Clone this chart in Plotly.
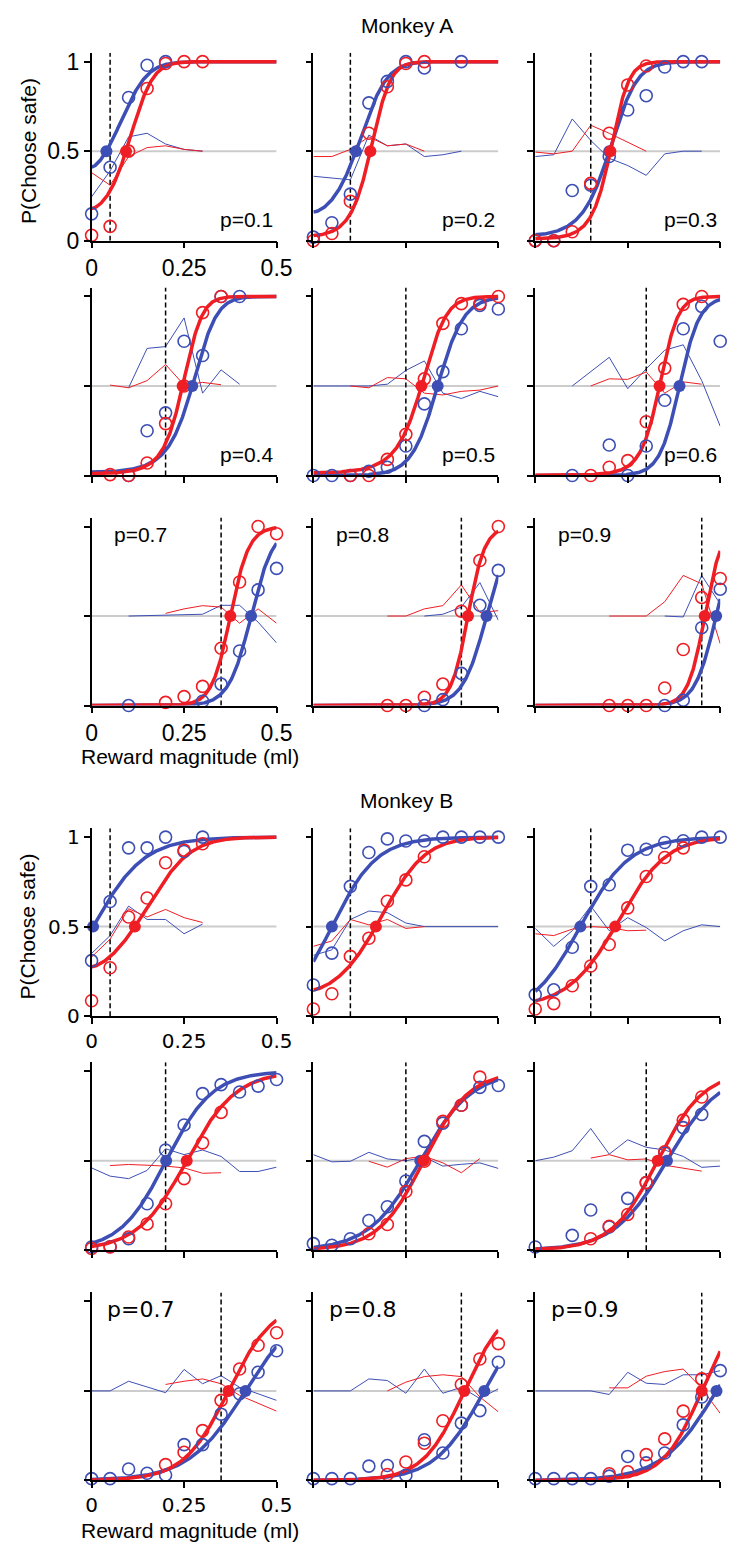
import numpy as np
import plotly.graph_objects as go

# ---------------------------------------------------------------- data
P_LEVELS = [0.1, 0.2, 0.3, 0.4, 0.5, 0.6, 0.7, 0.8, 0.9]
X_FULL = [0, 0.05, 0.1, 0.15, 0.2, 0.25, 0.3, 0.35, 0.4, 0.45, 0.5]

# Monkey A: choice proportions (open circles)
A_BLUE_X = [
    [0, .05, .1, .15, .2],
    [0, .05, .1, .15, .2, .25, .3, .4],
    [0, .05, .1, .15, .2, .25, .3, .35, .4, .45],
    [.1, .15, .2, .25, .3, .35, .4],
    [0, .05, .1, .15, .2, .25, .3, .35, .4, .45, .5],
    [.1, .2, .25, .3, .35, .4, .45, .5],
    [.1, .3, .35, .4, .45, .5],
    [.3, .35, .4, .45, .5],
    [.35, .4, .45, .5],
]
A_BLUE_Y = [
    [0.15, 0.41, 0.80, 0.98, 1.0],
    [0.02, 0.10, 0.26, 0.77, 0.89, 1.0, 0.965, 1.0],
    [0, 0, 0.28, 0.31, 0.47, 0.73, 0.81, 0.97, 1.0, 1.0],
    [0.0, 0.25, 0.35, 0.75, 0.67, 1.0, 1.0],
    [0, 0, 0, 0.024, 0.046, 0.165, 0.40, 0.58, 0.82, 0.95, 0.93],
    [0, 0.17, 0, 0.165, 0.42, 0.82, 0.945, 0.75],
    [0, 0.024, 0.12, 0.305, 0.646, 0.766],
    [0, 0.033, 0.18, 0.56, 0.755],
    [0, 0.03, 0.435, 0.65],
]
A_RED_X = [
    [0, .05, .1, .15, .2, .25, .3],
    [0, .05, .1, .15, .2, .25, .3],
    [0, .05, .1, .15, .2, .25, .3],
    [.05, .1, .15, .2, .25, .3, .35],
    [.1, .15, .2, .25, .3, .35, .4, .45, .5],
    [.15, .2, .25, .3, .35, .4, .45],
    [.2, .25, .3, .35, .4, .45, .5],
    [.2, .25, .3, .35, .4, .45, .5],
    [.2, .25, .3, .35, .4, .45, .5],
]
A_RED_Y = [
    [0.03, 0.08, 0.50, 0.85, 0.99, 1.0, 1.0],
    [0.0, 0.04, 0.22, 0.60, 0.86, 0.99, 1.0],
    [0, 0, 0.05, 0.32, 0.60, 0.87, 0.976],
    [0.005, 0.0, 0.07, 0.29, 0.5, 0.91, 1.0],
    [0, 0, 0.09, 0.23, 0.54, 0.85, 0.96, 0.96, 1.0],
    [0, 0.046, 0.083, 0.30, 0.60, 0.956, 1.0],
    [0.018, 0.05, 0.107, 0.32, 0.69, 1.0, 0.96],
    [0, 0, 0.046, 0.12, 0.527, 0.81, 1.0],
    [0, 0, 0, 0.098, 0.313, 0.604, 0.71],
]
# Monkey A: thin traces around 0.5
A_BLUE_LINE_X = [
    [0, .05, .1, .15, .2, .25, .3],
    [0, .05, .1, .15, .2, .25, .3, .35, .4],
    [0, .05, .1, .15, .2, .25, .3, .35, .4, .45],
    [.1, .15, .2, .25, .3, .35, .4],
    [0, .05, .1, .15, .2, .25, .3, .35, .4, .45, .5],
    [.1, .2, .25, .3, .35, .4, .45, .5],
    [.1, .3, .35, .4, .45, .5],
    [.3, .35, .4, .45, .5],
    [.35, .4, .45, .5],
]
A_BLUE_LINE_Y = [
    [0.245, 0.39, 0.58, 0.60, 0.54, 0.51, 0.5],
    [0.36, 0.35, 0.34, 0.59, 0.53, 0.54, 0.47, 0.48, 0.5],
    [0.47, 0.48, 0.68, 0.56, 0.46, 0.42, 0.365, 0.485, 0.5, 0.5],
    [0.49, 0.71, 0.72, 0.88, 0.46, 0.59, 0.51],
    [0.5, 0.5, 0.5, 0.5, 0.51, 0.587, 0.64, 0.46, 0.43, 0.47, 0.44],
    [0.5, 0.66, 0.485, 0.596, 0.70, 0.73, 0.53, 0.275],
    [0.5, 0.51, 0.56, 0.56, 0.466, 0.35],
    [0.5, 0.51, 0.55, 0.687, 0.476],
    [0.5, 0.495, 0.727, 0.567],
]
A_RED_LINE_X = A_RED_X
A_RED_LINE_Y = [
    [0.38, 0.31, 0.47, 0.52, 0.53, 0.51, 0.5],
    [0.47, 0.47, 0.51, 0.58, 0.53, 0.54, 0.5],
    [0.495, 0.485, 0.5, 0.645, 0.6, 0.55, 0.5],
    [0.505, 0.49, 0.53, 0.62, 0.505, 0.52, 0.507],
    [0.5, 0.49, 0.547, 0.54, 0.46, 0.45, 0.47, 0.477, 0.5],
    [0.5, 0.54, 0.537, 0.578, 0.46, 0.523, 0.51],
    [0.515, 0.54, 0.558, 0.55, 0.46, 0.54, 0.46],
    [0.5, 0.5, 0.54, 0.558, 0.674, 0.52, 0.53],
    [0.5, 0.5, 0.5, 0.58, 0.727, 0.68, 0.346],
]
# Monkey A: fitted psychometric functions (indifference point, slope, curvature)
A_BLUE_MID = [0.04, 0.115, 0.2, 0.272, 0.336, 0.39, 0.431, 0.468, 0.489]
A_BLUE_SLOPE = [14.1, 22.7, 26, 29, 28.5, 37, 33, 31, 35]
A_BLUE_SHAPE = [1.57, 1.57, 1.54, 2, 1, 1, 1, 1, 1]
A_RED_MID = [0.093, 0.154, 0.203, 0.246, 0.292, 0.336, 0.375, 0.418, 0.458]
A_RED_SLOPE = [26, 36, 39, 36.6, 28.5, 39, 40, 44, 44]
A_RED_SHAPE = [1.59, 1.58, 1.76, 2, 2, 2, 1, 1, 1]

# Monkey B: choice proportions
B_BLUE_X = [
    [0, .05, .1, .15, .2, .25, .3],
    X_FULL, X_FULL, X_FULL, X_FULL,
    [0, .1, .15, .2, .25, .3, .35, .4, .45],
    X_FULL, X_FULL, X_FULL,
]
B_BLUE_Y = [
    [0.31, 0.64, 0.94, 0.94, 1.0, 0.92, 1.0],
    [0.174, 0.352, 0.725, 0.914, 0.99, 0.978, 0.978, 1, 1, 1, 1],
    [0.12, 0.147, 0.385, 0.725, 0.734, 0.927, 0.932, 0.97, 0.98, 1.0, 1.0],
    [0.018, 0.02, 0.064, 0.26, 0.56, 0.70, 0.875, 0.925, 0.884, 0.917, 0.954],
    [0.037, 0.028, 0.064, 0.166, 0.243, 0.387, 0.608, 0.71, 0.81, 0.91, 0.92],
    [0.018, 0.083, 0.225, 0.13, 0.29, 0.378, 0.543, 0.685, 0.759],
    [0.01, 0.01, 0.064, 0.04, 0.03, 0.2, 0.2, 0.37, 0.484, 0.604, 0.724],
    [0.01, 0.01, 0.01, 0.08, 0.083, 0.028, 0.227, 0.153, 0.32, 0.39, 0.66],
    [0.01, 0.01, 0.01, 0.01, 0.024, 0.134, 0.098, 0.153, 0.31, 0.466, 0.613],
]
B_RED_X = [
    [0, .05, .1, .15, .2, .25, .3],
    [0, .05, .1, .15, .2, .25, .3],
    [0, .05, .1, .15, .2, .25, .3, .35, .4],
    [0, .05, .1, .15, .2, .25, .3, .35],
    [.15, .2, .25, .3, .35, .4, .45],
    [.15, .2, .25, .3, .35, .4, .45],
    [.2, .25, .3, .35, .4, .45, .5],
    [.2, .25, .3, .35, .4, .45, .5],
    [.2, .25, .3, .35, .4, .45],
]
B_RED_Y = [
    [0.086, 0.27, 0.554, 0.66, 0.857, 0.927, 0.963],
    [0.04, 0.125, 0.334, 0.435, 0.642, 0.761, 0.89],
    [0.04, 0.07, 0.17, 0.28, 0.40, 0.605, 0.78, 0.886, 0.94],
    [0.01, 0.018, 0.074, 0.147, 0.26, 0.40, 0.60, 0.77],
    [0.092, 0.144, 0.328, 0.497, 0.72, 0.81, 0.967],
    [0.064, 0.134, 0.2, 0.378, 0.55, 0.727, 0.856],
    [0.088, 0.157, 0.278, 0.447, 0.622, 0.755, 0.825],
    [0.033, 0.103, 0.208, 0.333, 0.536, 0.678, 0.764],
    [0.037, 0.048, 0.144, 0.232, 0.387, 0.567],
]
B_BLUE_LINE_X = [[0, .05, .1, .15, .2, .25, .3]] + [X_FULL] * 8
B_BLUE_LINE_Y = [
    [0.35, 0.45, 0.615, 0.54, 0.54, 0.46, 0.514],
    [0.34, 0.37, 0.54, 0.587, 0.578, 0.52, 0.5, 0.5, 0.5, 0.5, 0.5],
    [0.49, 0.39, 0.477, 0.615, 0.477, 0.55, 0.495, 0.42, 0.477, 0.51, 0.5],
    [0.46, 0.414, 0.40, 0.446, 0.567, 0.534, 0.56, 0.524, 0.44, 0.44, 0.464],
    [0.534, 0.494, 0.497, 0.547, 0.51, 0.5, 0.52, 0.47, 0.48, 0.488, 0.457],
    [0.5, 0.52, 0.556, 0.68, 0.537, 0.617, 0.575, 0.56, 0.524, 0.463, 0.47],
    [0.5, 0.5, 0.554, 0.52, 0.49, 0.62, 0.54, 0.585, 0.52, 0.484, 0.447],
    [0.5, 0.5, 0.5, 0.567, 0.558, 0.487, 0.622, 0.487, 0.52, 0.457, 0.512],
    [0.5, 0.5, 0.5, 0.5, 0.48, 0.604, 0.543, 0.536, 0.59, 0.59, 0.613],
]
B_RED_LINE_X = [
    [0, .05, .1, .15, .2, .25, .3],
    [0, .05, .1, .15, .2, .25, .3],
    [0, .05, .1, .15, .2, .25, .3],
    [.05, .1, .15, .2, .25, .3, .35],
    [.15, .2, .25, .3, .35, .4, .45],
    [.15, .2, .25, .3, .35, .4, .45],
    [.2, .25, .3, .35, .4, .45, .5],
    [.2, .25, .3, .35, .4, .45, .5],
    [.2, .25, .3, .35, .4, .45, .5],
]
B_RED_LINE_Y = [
    [0.33, 0.43, 0.60, 0.554, 0.596, 0.55, 0.523],
    [0.39, 0.42, 0.54, 0.51, 0.54, 0.49, 0.5],
    [0.46, 0.45, 0.486, 0.5, 0.495, 0.477, 0.48],
    [0.473, 0.479, 0.475, 0.47, 0.46, 0.43, 0.433],
    [0.497, 0.464, 0.512, 0.525, 0.488, 0.433, 0.512],
    [0.515, 0.534, 0.505, 0.51, 0.475, 0.457, 0.442],
    [0.536, 0.554, 0.567, 0.54, 0.475, 0.43, 0.387],
    [0.5, 0.549, 0.58, 0.59, 0.58, 0.466, 0.383],
    [0.517, 0.517, 0.582, 0.608, 0.622, 0.515, 0.374],
]
B_BLUE_MID = [0.004, 0.05, 0.122, 0.2015, 0.289, 0.356, 0.416, 0.462, 0.49]
B_BLUE_SLOPE = [14.5, 16.5, 15, 16, 14.3, 14, 13, 15, 13.5]
B_BLUE_SHAPE = [1, 1, 1, 1, 1, 1, 1, 1, 1]
B_RED_MID = [0.117, 0.169, 0.216, 0.257, 0.298, 0.331, 0.37, 0.408, 0.45]
B_RED_SLOPE = [12.4, 14.6, 14.2, 15, 16.3, 16, 16.5, 18, 19]
B_RED_SHAPE = [1.5, 1.4, 1.3, 1, 1, 1, 1, 1, 1]

X_TICKS = [0, 0.25, 0.5]
X_TICK_TEXT = ["0", "0.25", "0.5"]
Y_TICKS = [0, 0.5, 1]
Y_TICK_TEXT = ["0", "0.5", "1"]

# ---------------------------------------------------------------- style
BLUE = "rgb(61,79,180)"
RED = "rgb(238,30,36)"
GREY = "rgb(204,204,204)"
W, H = 747, 1558
COL_LEFT = [88.2, 316.7, 545.3]
COL_W = 190.6
ROW_BOTTOM = [[239.3, 476.7, 709.3], [1023.3, 1260.0, 1492.7]]
Y_TOP = 1.05
PANEL_H = 181.0 * Y_TOP
ARIAL = "Liberation Sans, Arial, sans-serif"
DEJAVU = "DejaVu Sans, sans-serif"


def psychometric(x, mid, slope, shape):
    x = np.asarray(x, dtype=float)
    if shape == 1:
        z = slope * (x - mid)
    else:
        z = slope * mid / shape * ((x / mid) ** shape - 1.0)
    return 1.0 / (1.0 + np.exp(-z))


monkeys = [
    dict(name="Monkey A", bx=A_BLUE_X, by=A_BLUE_Y, rx=A_RED_X, ry=A_RED_Y,
         blx=A_BLUE_LINE_X, bly=A_BLUE_LINE_Y, rlx=A_RED_LINE_X, rly=A_RED_LINE_Y,
         bfit=(A_BLUE_MID, A_BLUE_SLOPE, A_BLUE_SHAPE),
         rfit=(A_RED_MID, A_RED_SLOPE, A_RED_SHAPE),
         tick_font=dict(family=ARIAL, size=23, color="black"),
         p_font=dict(family=ARIAL, size=21, color="black"),
         p_right=0.497, p_low=0.12, p_left=0.055),
    dict(name="Monkey B", bx=B_BLUE_X, by=B_BLUE_Y, rx=B_RED_X, ry=B_RED_Y,
         blx=B_BLUE_LINE_X, bly=B_BLUE_LINE_Y, rlx=B_RED_LINE_X, rly=B_RED_LINE_Y,
         bfit=(B_BLUE_MID, B_BLUE_SLOPE, B_BLUE_SHAPE),
         rfit=(B_RED_MID, B_RED_SLOPE, B_RED_SHAPE),
         tick_font=dict(family=DEJAVU, size=20, color="black"),
         p_font=dict(family=DEJAVU, size=22, color="black"),
         p_right=0.52, p_low=0.13, p_left=0.036),
]

fig = go.Figure()
layout = dict(width=W, height=H, margin=dict(l=0, r=0, t=0, b=0),
              paper_bgcolor="white", plot_bgcolor="white", showlegend=False)
annotations = []
xs = np.linspace(0, 0.5, 300)

n = 0
for g, mk in enumerate(monkeys):
    for i, p in enumerate(P_LEVELS):
        n += 1
        r, c = divmod(i, 3)
        xa, ya = f"x{n}", f"y{n}"
        left = COL_LEFT[c]
        bottom = ROW_BOTTOM[g][r]
        layout[f"xaxis{n}"] = dict(
            domain=[left / W, (left + COL_W) / W], anchor=ya, range=[0, 0.5],
            showgrid=False, zeroline=False, showline=True, linecolor="black",
            linewidth=1.5, ticks="outside", ticklen=6, tickwidth=1.5,
            tickcolor="black", tickvals=X_TICKS, ticktext=X_TICK_TEXT,
            showticklabels=(c == 0 and r in (0, 2)), tickfont=mk["tick_font"])
        layout[f"yaxis{n}"] = dict(
            domain=[1 - bottom / H, 1 - (bottom - PANEL_H) / H], anchor=xa,
            range=[0, Y_TOP], showgrid=False, zeroline=False, showline=True,
            linecolor="black", linewidth=1.5, ticks="outside", ticklen=6,
            tickwidth=1.5, tickcolor="black", tickvals=Y_TICKS,
            ticktext=Y_TICK_TEXT, showticklabels=(c == 0 and r == 0),
            tickfont=mk["tick_font"])

        common = dict(xaxis=xa, yaxis=ya, hoverinfo="skip")
        # reference level
        fig.add_trace(go.Scatter(x=[0, 0.5], y=[0.5, 0.5], mode="lines",
                                 line=dict(color=GREY, width=2), **common))
        # thin traces
        fig.add_trace(go.Scatter(x=mk["blx"][i], y=mk["bly"][i], mode="lines",
                                 line=dict(color=BLUE, width=1), **common))
        fig.add_trace(go.Scatter(x=mk["rlx"][i], y=mk["rly"][i], mode="lines",
                                 line=dict(color=RED, width=1), **common))
        # expected value of the gamble
        ev = 0.5 * p
        fig.add_trace(go.Scatter(x=[ev, ev], y=[0, Y_TOP], mode="lines",
                                 line=dict(color="black", width=1.5, dash="5px,3px"),
                                 **common))
        # fitted curves
        bm, bs, bsh = (mk["bfit"][0][i], mk["bfit"][1][i], mk["bfit"][2][i])
        rm, rs, rsh = (mk["rfit"][0][i], mk["rfit"][1][i], mk["rfit"][2][i])
        fig.add_trace(go.Scatter(x=xs, y=psychometric(xs, bm, bs, bsh), mode="lines",
                                 line=dict(color=BLUE, width=3.5), cliponaxis=False,
                                 **common))
        fig.add_trace(go.Scatter(x=xs, y=psychometric(xs, rm, rs, rsh), mode="lines",
                                 line=dict(color=RED, width=3.5), cliponaxis=False,
                                 **common))
        # choice data
        fig.add_trace(go.Scatter(x=mk["bx"][i], y=mk["by"][i], mode="markers",
                                 marker=dict(symbol="circle-open", size=12,
                                             color=BLUE, line=dict(width=1.6)),
                                 cliponaxis=False, **common))
        fig.add_trace(go.Scatter(x=mk["rx"][i], y=mk["ry"][i], mode="markers",
                                 marker=dict(symbol="circle-open", size=12,
                                             color=RED, line=dict(width=1.6)),
                                 cliponaxis=False, **common))
        # indifference points
        fig.add_trace(go.Scatter(x=[bm], y=[0.5], mode="markers",
                                 marker=dict(symbol="circle", size=12, color=BLUE),
                                 cliponaxis=False, **common))
        fig.add_trace(go.Scatter(x=[rm], y=[0.5], mode="markers",
                                 marker=dict(symbol="circle", size=12, color=RED),
                                 cliponaxis=False, **common))

        # probability label
        label = f"p={p:.1f}"
        if r < 2:
            annotations.append(dict(text=label, xref=xa, yref=ya, x=mk["p_right"],
                                    y=mk["p_low"], xanchor="right", yanchor="middle",
                                    showarrow=False, font=mk["p_font"]))
        else:
            annotations.append(dict(text=label, xref=xa, yref=ya, x=mk["p_left"],
                                    y=0.957, xanchor="left", yanchor="middle",
                                    showarrow=False, font=mk["p_font"]))

    # group titles and axis titles
    top_px = ROW_BOTTOM[g][0] - 181.0
    annotations.append(dict(text=mk["name"], xref="paper", yref="paper",
                            x=413 / W, y=1 - (top_px - 37) / H, xanchor="center",
                            yanchor="middle", showarrow=False,
                            font=dict(family=ARIAL, size=21, color="black")))
    annotations.append(dict(text="P(Choose safe)", xref="paper", yref="paper",
                            x=22.5 / W, y=1 - (ROW_BOTTOM[g][0] - 90.5) / H,
                            xanchor="center", yanchor="middle", textangle=-90,
                            showarrow=False,
                            font=dict(family=ARIAL, size=21, color="black")))
    annotations.append(dict(text="Reward magnitude (ml)", xref="paper", yref="paper",
                            x=190 / W, y=1 - (ROW_BOTTOM[g][2] + 51) / H,
                            xanchor="center", yanchor="middle", showarrow=False,
                            font=dict(family=ARIAL, size=21, color="black")))

layout["annotations"] = annotations
fig.update_layout(**layout)
fig.write_html("out.html")
